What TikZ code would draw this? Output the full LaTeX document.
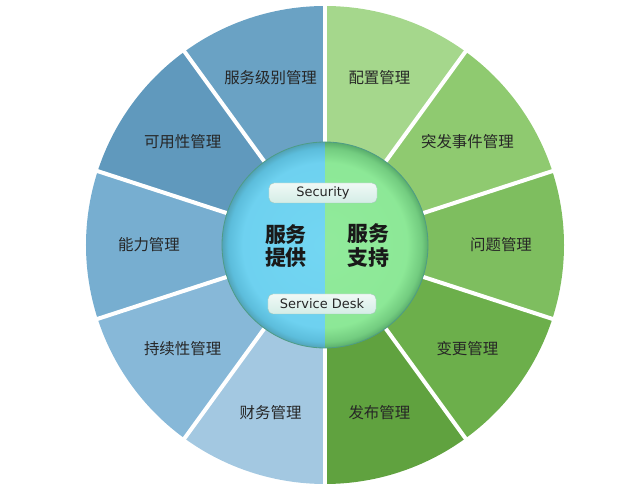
\documentclass[tikz,border=0pt]{standalone}
\usepackage{fontspec}
\setmainfont{DejaVu Sans}
\newfontfamily\cjk{Noto Sans CJK SC}
\definecolor{segA}{HTML}{A5D78C}
\definecolor{segB}{HTML}{8FCA70}
\definecolor{segC}{HTML}{7EBE5F}
\definecolor{segD}{HTML}{6CAF4B}
\definecolor{segE}{HTML}{60A23F}
\definecolor{segF}{HTML}{A3C8E1}
\definecolor{segG}{HTML}{87B8D8}
\definecolor{segH}{HTML}{77AED0}
\definecolor{segI}{HTML}{6099BD}
\definecolor{segJ}{HTML}{6AA2C4}
\definecolor{hubedge}{HTML}{4E9C86}
\definecolor{tagedge}{HTML}{A3C8BA}
\definecolor{tagtop}{HTML}{F0F9F6}
\definecolor{tagbot}{HTML}{D4EDE6}
\pgfdeclareradialshading{hubblue}{\pgfpoint{0bp}{0bp}}{rgb(0bp)=(0.45,0.84,0.95); rgb(20bp)=(0.43,0.82,0.94); rgb(23.5bp)=(0.36,0.74,0.86); rgb(25bp)=(0.32,0.64,0.72); rgb(50bp)=(0.32,0.64,0.72)}
\pgfdeclareradialshading{hubgreen}{\pgfpoint{0bp}{0bp}}{rgb(0bp)=(0.57,0.92,0.61); rgb(20bp)=(0.55,0.91,0.59); rgb(23.5bp)=(0.45,0.80,0.50); rgb(25bp)=(0.35,0.68,0.42); rgb(50bp)=(0.35,0.68,0.42)}
\begin{document}
\begin{tikzpicture}[
            x=1bp, y=1bp,
            divider/.style={white, line width=4bp},
            segtext/.style={font=\cjk\fontsize{15.5}{18}\selectfont, text=black!85},
            hubtext/.style={font=\cjk\bfseries\fontsize{21}{24}\selectfont, align=center, text=black!90},
            tagbox/.style={draw=tagedge, rounded corners=5bp, top color=tagtop, bottom color=tagbot,
                minimum width=108bp, minimum height=20bp, inner sep=0pt,
                font=\fontsize{13}{15}\selectfont, text=black!85}
        ]
        \useasboundingbox (-325,-245) rectangle (319,245);

        \foreach \c/\txt [count=\i from 0] in {segA/配置管理, segB/突发事件管理, segC/问题管理,
                segD/变更管理, segE/发布管理, segF/财务管理, segG/持续性管理,
                segH/能力管理, segI/可用性管理, segJ/服务级别管理}{
            \pgfmathsetmacro\a{90-36*\i}
            \pgfmathsetmacro\b{\a-36}
            \pgfmathsetmacro\m{\a-18}
            \fill[\c] (0,0) -- (\a:239) arc[start angle=\a, end angle=\b, radius=239] -- cycle;
            \node[segtext] (seg\i) at (\m:176) {\txt};
        }
        \foreach \a in {90,54,...,-234}
            \draw[divider] (\a:95) -- (\a:242);

        \begin{scope}
            \clip (-110,-110) rectangle (0,110);
            \shade[shading=hubblue] (0,0) circle[radius=103];
        \end{scope}
        \begin{scope}
            \clip (0,-110) rectangle (110,110);
            \shade[shading=hubgreen] (0,0) circle[radius=103];
        \end{scope}
        \draw[hubedge, line width=0.8bp] (0,0) circle[radius=103];

        \node[hubtext] (provide) at (-39,-1) {服务\\提供};
        \node[hubtext] (support) at (43,-1) {服务\\支持};
        \node[tagbox] (security) at (-2,52) {Security};
        \node[tagbox] (desk) at (-3,-59) {Service Desk};
    \end{tikzpicture}
\end{document}
